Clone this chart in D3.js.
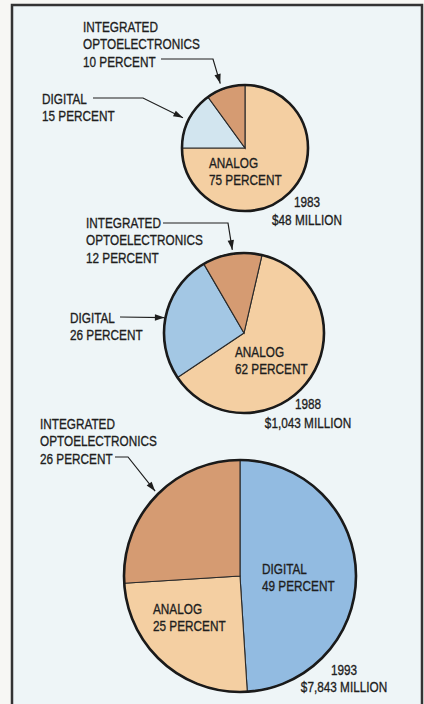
<!DOCTYPE html>
<html>
<head>
<meta charset="utf-8">
<script src="https://cdn.jsdelivr.net/npm/d3@7"></script>
<style>
  html, body { margin: 0; padding: 0; background: #f7f7f4; }
  svg { display: block; }
  text { font-family: "Liberation Sans", Arial, sans-serif; fill: #1e1e1e; stroke: #1e1e1e; stroke-width: 0.35; }
</style>
</head>
<body>
<div id="chart"></div>
<script>
// Market shares by technology, three snapshot years
const years = ["1983", "1988", "1993"];
const totals = ["$48 MILLION", "$1,043 MILLION", "$7,843 MILLION"];
const categories = ["ANALOG", "DIGITAL", "OPTO"];
const analogShare = [75, 62, 25];
const digitalShare = [15, 26, 49];
const optoShare = [10, 12, 26];

const width = 424, height = 704;
const fontSize = 15.5, squeeze = 0.76, lineGap = 17.5;

// layout for each pie (geometry only)
const pies = [
  { cx: 245, cy: 148, r: 63, start: 0, order: ["ANALOG", "DIGITAL", "OPTO"], digitalFill: "#d2e5ef",
    yearAt: [307, 207, 225] },
  { cx: 244, cy: 333, r: 80, start: 13, order: ["ANALOG", "DIGITAL", "OPTO"], digitalFill: "#a3c7e4",
    yearAt: [308, 409, 428] },
  { cx: 240, cy: 576, r: 116, start: 0, order: ["DIGITAL", "ANALOG", "OPTO"], digitalFill: "#92bbe1",
    yearAt: [344, 675, 692] }
];

// label positions: [x, first baseline] per category per pie
const labelAt = [
  { ANALOG: [209, 168], DIGITAL: [42, 104], OPTO: [83, 32] },
  { ANALOG: [235, 357], DIGITAL: [70, 323], OPTO: [86, 228] },
  { ANALOG: [153, 614], DIGITAL: [262, 574], OPTO: [40, 429] }
];

// leader lines: points from text, ending at an arrow on the rim (angle in degrees, gap in px)
const leaders = [
  [ { pts: [[161, 59], [213, 59]], angle: 339, gap: 6 },
    { pts: [[93, 98], [143, 98]], angle: 296, gap: 6 } ],
  [ { pts: [[163, 223], [228, 223]], angle: 352, gap: 4 },
    { pts: [[120, 317]], angle: 281, gap: 1 } ],
  [ { pts: [[115, 457], [128, 457]], angle: 315, gap: 4 } ]
];

const fills = { ANALOG: "#f4cfa2", OPTO: "#d59b72" };
const rad = d => d * Math.PI / 180;

const svg = d3.select("#chart").append("svg")
  .attr("width", width)
  .attr("height", height);

svg.append("defs").append("marker")
  .attr("id", "arrow")
  .attr("viewBox", "0 0 12 10")
  .attr("refX", 12).attr("refY", 5)
  .attr("markerWidth", 11).attr("markerHeight", 8)
  .attr("markerUnits", "userSpaceOnUse")
  .attr("orient", "auto")
  .append("path")
  .attr("d", "M0,1 L12,5 L0,9 Z")
  .attr("fill", "#1e1e1e");

// panel frame
svg.append("rect")
  .attr("x", 12).attr("y", 5)
  .attr("width", 410).attr("height", 710)
  .attr("fill", "#eef5f7")
  .attr("stroke", "#333")
  .attr("stroke-width", 2.5);

const values = { ANALOG: analogShare, DIGITAL: digitalShare, OPTO: optoShare };
const labelText = {
  ANALOG: v => ["ANALOG", v + " PERCENT"],
  DIGITAL: v => ["DIGITAL", v + " PERCENT"],
  OPTO: v => ["INTEGRATED", "OPTOELECTRONICS", v + " PERCENT"]
};

// condensed text block: lines stacked from a first baseline
function textBlock(x, y, lines, anchor) {
  const t = svg.append("text")
    .attr("transform", `translate(${x},${y}) scale(${squeeze},1)`)
    .attr("font-size", fontSize)
    .attr("text-anchor", anchor || "start");
  lines.forEach((line, k) => {
    t.append("tspan").attr("x", 0).attr("y", k * lineGap).text(line);
  });
}

pies.forEach((p, i) => {
  const data = p.order.map(c => ({ cat: c, value: values[c][i] }));

  const pie = d3.pie()
    .sort(null)
    .value(d => d.value)
    .startAngle(rad(p.start))
    .endAngle(rad(p.start) + 2 * Math.PI);

  const arc = d3.arc().innerRadius(0).outerRadius(p.r);

  const g = svg.append("g").attr("transform", `translate(${p.cx},${p.cy})`);

  g.selectAll("path.slice")
    .data(pie(data))
    .join("path")
    .attr("class", "slice")
    .attr("d", arc)
    .attr("fill", d => d.data.cat === "DIGITAL" ? p.digitalFill : fills[d.data.cat])
    .attr("stroke", "#2a2a2a")
    .attr("stroke-width", 1.1);

  g.append("circle")
    .attr("r", p.r)
    .attr("fill", "none")
    .attr("stroke", "#1a1a1a")
    .attr("stroke-width", 2.6);

  // category labels
  categories.forEach(c => {
    const [x, y] = labelAt[i][c];
    textBlock(x, y, labelText[c](values[c][i]));
  });

  // year and market size
  const [yx, y1, y2] = p.yearAt;
  textBlock(yx, y1, [years[i]], "middle");
  textBlock(yx, y2, [totals[i]], "middle");

  // leaders with arrowheads
  leaders[i].forEach(l => {
    const a = rad(l.angle);
    const tip = [p.cx + (p.r + l.gap) * Math.sin(a), p.cy - (p.r + l.gap) * Math.cos(a)];
    svg.append("path")
      .attr("d", d3.line()(l.pts.concat([tip])))
      .attr("fill", "none")
      .attr("stroke", "#1e1e1e")
      .attr("stroke-width", 1.2)
      .attr("marker-end", "url(#arrow)");
  });
});
</script>
</body>
</html>
